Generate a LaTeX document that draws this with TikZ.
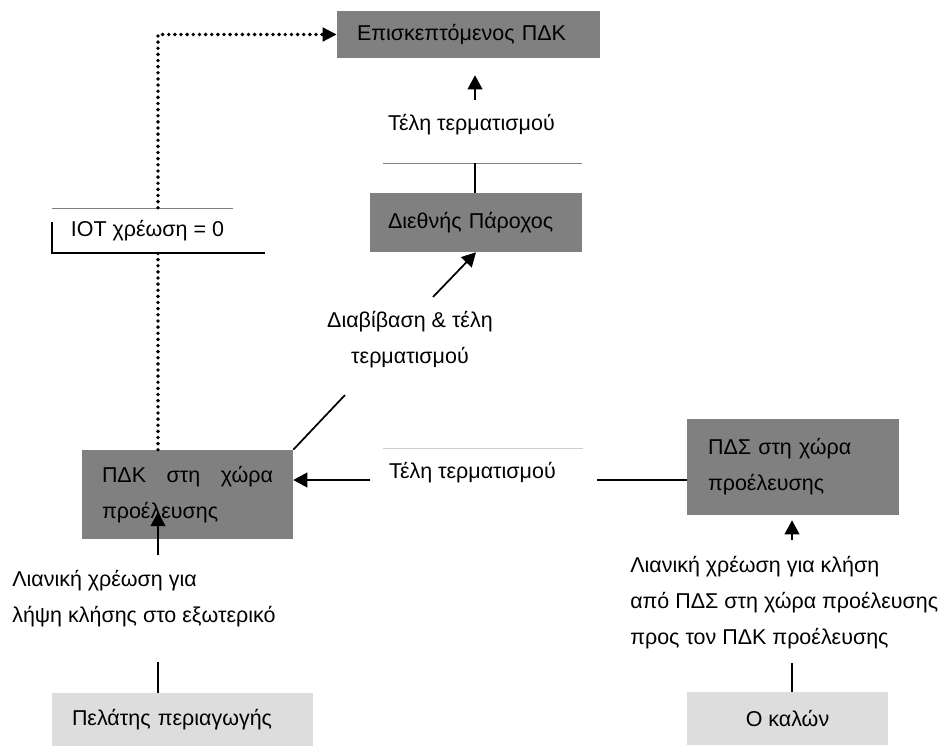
\documentclass[tikz,border=0pt]{standalone}
\usepackage{fontspec}
\setmainfont{Liberation Sans}
\usetikzlibrary{arrows.meta}
\definecolor{dk}{HTML}{808080}
\definecolor{lt}{HTML}{DDDDDD}
\begin{document}
\begin{tikzpicture}[x=0.75pt,y=-0.75pt,
 every node/.style={font=\fontsize{16.1}{26.8}\selectfont, inner sep=0pt},
 dkbox/.style={fill=dk, draw=none, align=left},
 ltbox/.style={fill=lt, draw=none},
 arr/.style={line width=1.3pt, -{Triangle[length=10.5pt,width=11pt]}},
 conn/.style={line width=1.3pt},
 dotline/.style={line width=2.9pt, line cap=round, dash pattern=on 0pt off 4.6pt},
 thinline/.style={line width=0.6pt, draw=gray}
]
\useasboundingbox (0,0) rectangle (939,746);

% boxes
\node[dkbox, text width=167.25pt, inner xsep=15pt, minimum height=35.25pt] (visit) at (468.5,34.5) {Επισκεπτόμενος ΠΔΚ};
\node[dkbox, text width=132pt, inner xsep=13.5pt, minimum height=44.25pt] (intl) at (476,222.5) {\raisebox{3pt}{Διεθνής Πάροχος}};
\node[dkbox, text width=128.25pt, inner xsep=15pt, minimum height=66.75pt] (pdk) at (187.5,494.5) {\makebox[128.25pt][l]{ΠΔΚ\hfill στη\hfill χώρα}\\προέλευσης};
\node[dkbox, text width=127.5pt, inner xsep=15.75pt, minimum height=72pt] (pds) at (793,467) {ΠΔΣ στη χώρα\\προέλευσης};
\node[ltbox, text width=165.75pt, inner xsep=15pt, minimum height=39.75pt, align=left] (roam) at (182.5,719.5) {Πελάτης περιαγωγής};
\node[ltbox, minimum width=150.75pt, minimum height=39.75pt] (caller) at (787.5,718.5) {Ο καλών};

% labels
\node (tel1) at (471.5,125) {Τέλη τερματισμού};
\node[align=center] (trans) at (410,339.5) {Διαβίβαση \& τέλη\\τερματισμού};
\node (tel2) at (472.5,473) {Τέλη τερματισμού};
\node[align=left, anchor=west] (retl) at (12,598.5) {Λιανική χρέωση για\\λήψη κλήσης στο εξωτερικό};
\node[align=left, anchor=west] (retr) at (630,602.5) {Λιανική χρέωση για κλήση\\από ΠΔΣ στη χώρα προέλευσης\\προς τον ΠΔΚ προέλευσης};
\node[minimum height=33.75pt] (iot) at (147.5,230.5) {ΙΟΤ χρέωση = 0};

% decorative rules
\draw[thinline] (52,208) -- (233,208);
\draw[line width=0.8pt] (52,222) -- (52,253) -- (265,253);
\draw[thinline] (383,163) -- (582,163);
\draw[thinline, draw=gray!40] (383,448) -- (583,448);

% free-end coordinates
\coordinate (dx) at (158,0);
\coordinate (g1) at (0,163);
\coordinate (t1a) at (475,100);
\coordinate (d1) at (433,297);
\coordinate (d2) at (345,395);
\coordinate (h1) at (370,480);
\coordinate (h2) at (597,480);
\coordinate (b1) at (158,555);
\coordinate (b1t) at (158,512);
\coordinate (b2) at (158,662);
\coordinate (r1) at (792,540);
\coordinate (r2) at (792,663);

% connectors
\draw[dotline] (pdk.north -| dx) -- (iot.south -| dx);
\draw[dotline, -{Triangle[length=10.5pt,width=10pt]}] (iot.north -| dx) |- (visit.west);
\draw[conn] (intl.north -| t1a) -- (g1 -| t1a);
\draw[arr, shorten >=12.75pt] (t1a) -- (visit.south -| t1a);
\draw[arr] (d1) -- (intl.south);
\draw[conn] (pdk.north east) -- (d2);
\draw[arr] (h1) -- (pdk.east |- h1);
\draw[conn] (pds.west |- h2) -- (h2);
\draw[arr] (b1) -- (b1t);
\draw[conn] (b2) -- (roam.north -| b2);
\draw[arr, shorten >=3.75pt] (r1) -- (pds.south -| r1);
\draw[conn] (r2) -- (caller.north -| r2);
\end{tikzpicture}
\end{document}
